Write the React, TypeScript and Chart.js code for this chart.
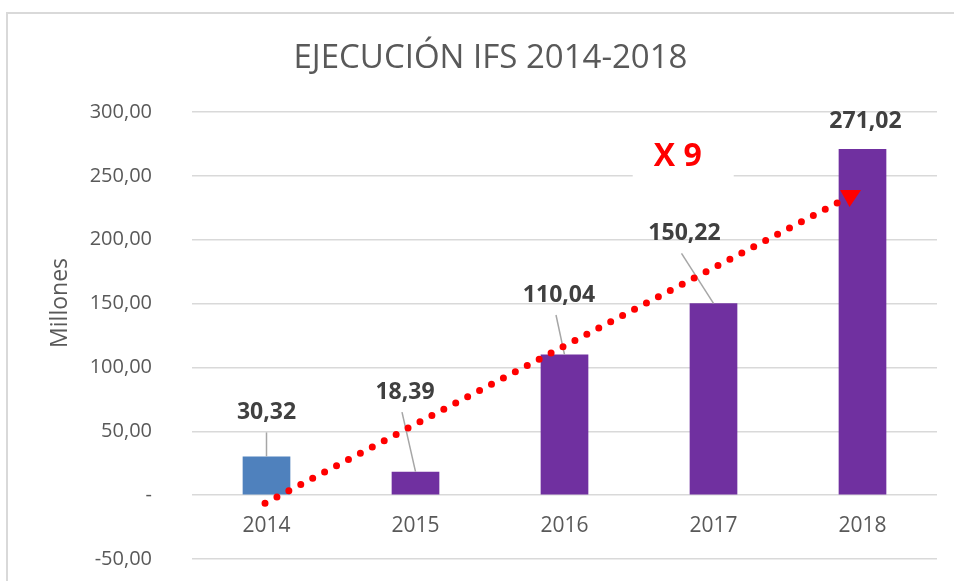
import React, { useEffect, useRef } from "react";
import { Chart, registerables } from "chart.js";

Chart.register(...registerables);

// ---- data ----
const categories = ["2014", "2015", "2016", "2017", "2018"];
const values = [30.32, 18.39, 110.04, 150.22, 271.02];
const barColors = ["#4F81BD", "#7030A0", "#7030A0", "#7030A0", "#7030A0"];
const yMin = -50;
const yMax = 300;
const yStep = 50;
const chartTitle = "EJECUCIÓN IFS 2014-2018";
const yTitle = "Millones";
const yTitleAt = 150.5; // value at which the axis title is centred
// trend arrow in data space (category index, value)
const trendFrom = [-0.01, -6.3];
const trendTo = [3.83, 228.8];
const arrowAt = [3.92, 234.3];
const growthText = "X 9";
const growthAt = [2.76, 265];

// ---- style config ----
const labelOffsets = [
  [0, -44],
  [-10.5, -79.5],
  [-5.5, -59.6],
  [-29, -70],
  [3, -27.5],
];
const leaderLines = [true, true, true, true, false];
const FONT = "'Open Sans', 'Liberation Sans', sans-serif";

const fmt = (v: number) => v.toFixed(2).replace(".", ",");

const decorPlugin = {
  id: "decor",
  beforeDraw(chart: any) {
    const ctx = chart.ctx;
    ctx.save();
    ctx.fillStyle = "#ffffff";
    ctx.fillRect(0, 0, chart.width, chart.height);
    ctx.strokeStyle = "#d9d9d9";
    ctx.lineWidth = 2;
    ctx.strokeRect(7, 13, chart.width + 50, chart.height + 50);
    ctx.restore();
  },
  beforeDatasetsDraw(chart: any) {
    const ctx = chart.ctx;
    const xs = chart.scales.x;
    const ys = chart.scales.y;
    const tx = xs.getPixelForValue(growthAt[0]);
    const ty = ys.getPixelForValue(growthAt[1]);
    ctx.save();
    ctx.fillStyle = "#ffffff";
    ctx.fillRect(tx - 45, ty - 23, 101, 48);
    // y axis title
    ctx.translate(60, ys.getPixelForValue(yTitleAt));
    ctx.rotate(-Math.PI / 2);
    ctx.fillStyle = "#595959";
    ctx.font = `23px ${FONT}`;
    ctx.textAlign = "center";
    ctx.textBaseline = "middle";
    ctx.fillText(yTitle, 0, 0);
    ctx.restore();
  },
  afterDatasetsDraw(chart: any) {
    const ctx = chart.ctx;
    const xs = chart.scales.x;
    const ys = chart.scales.y;
    const meta = chart.getDatasetMeta(0);
    ctx.save();
    meta.data.forEach((bar: any, i: number) => {
      const { x, y } = bar.getProps(["x", "y"], true);
      const lx = x + labelOffsets[i][0];
      const ly = y + labelOffsets[i][1];
      if (leaderLines[i]) {
        ctx.strokeStyle = "#a6a6a6";
        ctx.lineWidth = 1.5;
        ctx.beginPath();
        ctx.moveTo(lx + (labelOffsets[i][0] === 0 ? 0 : -3), ly + 20);
        ctx.lineTo(x, y);
        ctx.stroke();
      }
      ctx.fillStyle = "#404040";
      ctx.font = `bold 23px ${FONT}`;
      ctx.textAlign = "center";
      ctx.textBaseline = "middle";
      ctx.fillText(fmt(values[i]), lx, ly);
    });

    // dotted trend line
    const x1 = xs.getPixelForValue(trendFrom[0]);
    const y1 = ys.getPixelForValue(trendFrom[1]);
    const x2 = xs.getPixelForValue(trendTo[0]);
    const y2 = ys.getPixelForValue(trendTo[1]);
    const len = Math.hypot(x2 - x1, y2 - y1);
    const gap = len / Math.max(1, Math.round(len / 13.5));
    ctx.strokeStyle = "#ff0000";
    ctx.lineWidth = 7;
    ctx.lineCap = "round";
    ctx.setLineDash([0, gap]);
    ctx.beginPath();
    ctx.moveTo(x1, y1);
    ctx.lineTo(x2 + 0.01 * (x2 - x1) / len, y2 + 0.01 * (y2 - y1) / len);
    ctx.stroke();
    ctx.setLineDash([]);

    // arrow head
    const ax = xs.getPixelForValue(arrowAt[0]);
    const ay = ys.getPixelForValue(arrowAt[1]);
    ctx.fillStyle = "#ff0000";
    ctx.beginPath();
    ctx.moveTo(ax - 10.5, ay - 6);
    ctx.lineTo(ax + 10.5, ay - 6);
    ctx.lineTo(ax - 1, ay + 11);
    ctx.closePath();
    ctx.fill();

    // growth label
    const tx = xs.getPixelForValue(growthAt[0]);
    const ty = ys.getPixelForValue(growthAt[1]);
    ctx.fillStyle = "#ff0000";
    ctx.font = `bold 32px ${FONT}`;
    ctx.textAlign = "center";
    ctx.textBaseline = "middle";
    ctx.fillText(growthText, tx, ty);
    ctx.restore();
  },
};

export default function App() {
  const ref = useRef<HTMLCanvasElement | null>(null);

  useEffect(() => {
    if (!ref.current) return;
    const chart = new Chart(ref.current, {
      type: "bar",
      data: {
        labels: categories,
        datasets: [
          {
            data: values,
            backgroundColor: barColors,
            barPercentage: 0.32,
            categoryPercentage: 1,
          },
        ],
      },
      options: {
        animation: false,
        responsive: false,
        devicePixelRatio: 1,
        layout: { padding: { top: 12, left: 44, right: 17, bottom: 22 } },
        plugins: {
          legend: { display: false },
          tooltip: { enabled: false },
          title: {
            display: true,
            text: chartTitle,
            color: "#595959",
            font: { family: FONT, size: 33, weight: "normal" },
            padding: { top: 27, bottom: 33.4 },
          },
        },
        scales: {
          x: {
            type: "category",
            position: { y: 0 } as any,
            grid: { display: false, drawTicks: false },
            border: { display: false },
            ticks: {
              color: "#595959",
              font: { family: FONT, size: 21 },
              padding: 18,
            },
          },
          y: {
            min: yMin,
            max: yMax,
            grid: {
              color: "#d9d9d9",
              lineWidth: 1.5,
              drawTicks: true,
              tickLength: 36,
              tickColor: "rgba(0,0,0,0)",
            },
            border: { display: false },
            ticks: {
              stepSize: yStep,
              color: "#595959",
              font: { family: FONT, size: 20 },
              padding: 4,
              callback: (v: any) => (Number(v) === 0 ? "-" : fmt(Number(v))),
            },
            title: { display: false },
            afterFit: (s: any) => {
              s.width = 148;
            },
          },
        },
      },
      plugins: [decorPlugin],
    });
    return () => chart.destroy();
  }, []);

  return (
    <div style={{ position: "fixed", left: 0, top: 0, width: 954, height: 581, background: "#fff" }}>
      <canvas ref={ref} width={954} height={581} style={{ display: "block" }} />
    </div>
  );
}
